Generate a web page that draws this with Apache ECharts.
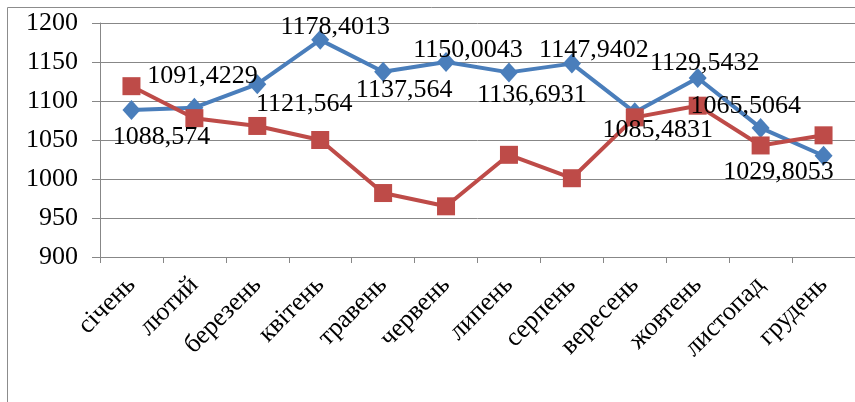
<!DOCTYPE html>
<html>
<head>
<meta charset="utf-8">
<script src="https://cdn.jsdelivr.net/npm/echarts@6/dist/echarts.min.js"></script>
<style>
	html, body { margin: 0; padding: 0; background: #fff; }
	#chart { width: 855px; height: 402px; }
</style>
</head>
<body>
<div id="chart"></div>
<script>
// місяці
var months = ['січень', 'лютий', 'березень', 'квітень', 'травень', 'червень',
	'липень', 'серпень', 'вересень', 'жовтень', 'листопад', 'грудень'];
// синя лінія (з підписами)
var blueValues = [1088.574, 1091.4229, 1121.564, 1178.4013, 1137.564, 1150.0043,
	1136.6931, 1147.9402, 1085.4831, 1129.5432, 1065.5064, 1029.8053];
// червона лінія
var redValues = [1119, 1078, 1068, 1050, 982, 965, 1031, 1001, 1079, 1094, 1043, 1056];
// шкала
var yMin = 900;
var yMax = 1200;
var yStep = 50;

// зсув підписів відносно точки
var labelOffsets = [[30, 27], [8, -32], [47, 20], [15, -13], [21, 18], [22, -12],
	[23, 23], [22, -13], [23, 18], [7, -15], [-15, -22], [-45, 16]];

var font = '"Liberation Serif", "Times New Roman", serif';

var myChart = echarts.init(document.getElementById('chart'));

// підписи йдуть окремим прозорим шаром поверх обох ліній
var labelData = blueValues.map(function(v, i) {
	return {
		value: v,
		label: { offset: labelOffsets[i] }
	};
});

var option = {
	animation: false,
	graphic: [{
		type: 'rect',
		shape: { x: 7.5, y: 7.5, width: 860, height: 420 },
		style: { fill: 'none', stroke: '#8c8c8c', lineWidth: 1 },
		silent: true
	}],
	grid: {
		left: 100,
		right: -3,
		top: 23,
		bottom: 145
	},
	xAxis: {
		type: 'category',
		data: months,
		boundaryGap: true,
		axisLine: { lineStyle: { color: '#878787', width: 1 } },
		axisTick: { show: true, length: 6, lineStyle: { color: '#878787' } },
		axisLabel: {
			rotate: 45,
			margin: 24,
			color: '#000',
			fontFamily: font,
			fontSize: 26,
			interval: 0
		}
	},
	yAxis: {
		type: 'value',
		min: yMin,
		max: yMax,
		interval: yStep,
		axisLine: { show: true, lineStyle: { color: '#878787', width: 1 } },
		axisTick: { show: true, length: 8, lineStyle: { color: '#878787' } },
		splitLine: { lineStyle: { color: '#878787', width: 1 } },
		axisLabel: {
			margin: 22,
			color: '#000',
			fontFamily: font,
			fontSize: 26,
			formatter: function(v) { return String(v); }
		}
	},
	series: [{
		type: 'line',
		data: blueValues,
		symbol: 'diamond',
		symbolSize: [18, 20],
		lineStyle: { color: '#4a7ebb', width: 4 },
		itemStyle: { color: '#4a7ebb' },
		z: 2
	}, {
		type: 'line',
		data: redValues,
		symbol: 'rect',
		symbolSize: 18,
		lineStyle: { color: '#be4b48', width: 4 },
		itemStyle: { color: '#be4b48' },
		z: 3
	}, {
		type: 'line',
		data: labelData,
		symbol: 'circle',
		symbolSize: 2,
		lineStyle: { color: 'rgba(0,0,0,0)', width: 0 },
		itemStyle: { color: 'rgba(0,0,0,0)', borderWidth: 0 },
		label: {
			show: true,
			position: 'inside',
			color: '#000',
			fontFamily: font,
			fontSize: 26,
			formatter: function(p) {
				return String(p.value).replace('.', ',');
			}
		},
		silent: true,
		z: 4
	}]
};

myChart.setOption(option);
</script>
</body>
</html>
